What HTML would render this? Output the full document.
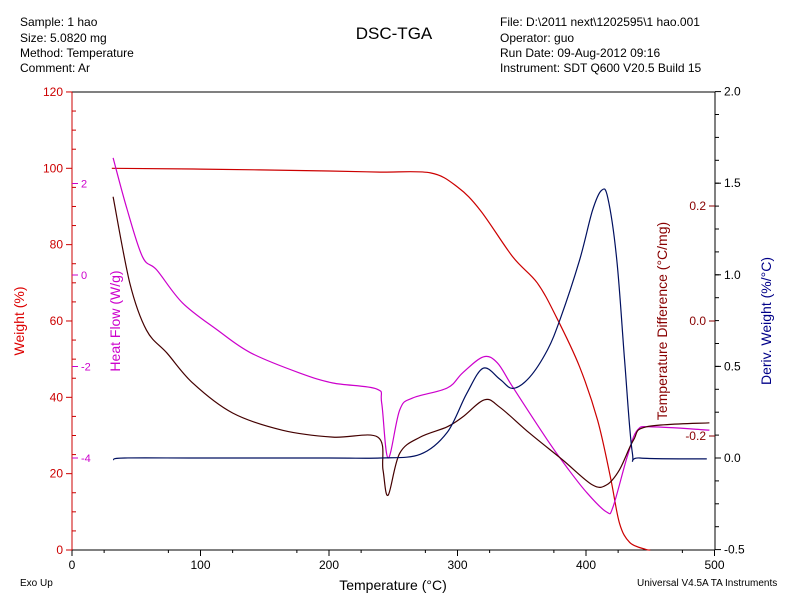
<!DOCTYPE html>
<html><head><meta charset="utf-8"><style>
body{margin:0;background:#fff;width:789px;height:608px;overflow:hidden;font-family:"Liberation Sans",sans-serif}
svg text{font-family:"Liberation Sans",sans-serif}
</style></head><body>
<svg id="c" width="789" height="608">
<g font-size="12" fill="#000">
<text x="20" y="26">Sample: 1 hao</text>
<text x="20" y="42">Size:  5.0820 mg</text>
<text x="20" y="57">Method: Temperature</text>
<text x="20" y="72">Comment: Ar</text>
<text x="500" y="26">File: D:\2011 next\1202595\1 hao.001</text>
<text x="500" y="42">Operator: guo</text>
<text x="500" y="57">Run Date: 09-Aug-2012 09:16</text>
<text x="500" y="72">Instrument: SDT Q600 V20.5 Build 15</text>
<text x="20" y="586" font-size="10">Exo Up</text>
<text x="637" y="586" font-size="10">Universal V4.5A TA Instruments</text>
</g>
<text x="394" y="39" font-size="17" text-anchor="middle">DSC-TGA</text>
<text x="393" y="590" font-size="14" text-anchor="middle">Temperature (°C)</text>
<text transform="translate(24,321) rotate(-90)" font-size="14" fill="#d00" text-anchor="middle">Weight (%)</text>
<text transform="translate(120,321) rotate(-90)" font-size="14" fill="#c0c" text-anchor="middle">Heat Flow (W/g)</text>
<text transform="translate(667,321) rotate(-90)" font-size="14" fill="#800" text-anchor="middle">Temperature Difference (°C/mg)</text>
<text transform="translate(771,321) rotate(-90)" font-size="14" fill="#008" text-anchor="middle">Deriv. Weight (%/°C)</text>
<g id="axes"></g><g id="series"></g>
</svg>
<script>
const tempW=[31,100,200,240,279,300,318,343,362,377,395,409,419,426,434,446,450];
const weight=[100,99.8,99.3,99,98.8,95.1,88.9,76.8,70,61,48,34,19.1,7.1,2,0.2,0];
const tempH=[32,43,55,66,86,113,139,177,203,237,241,246,255,265,292,304,320,331,343,370,385,401,416,421,432,440,452,496];
const heatFlow=[2.56,1.42,0.39,0.11,-0.61,-1.2,-1.7,-2.14,-2.36,-2.49,-2.8,-4.0,-2.95,-2.69,-2.47,-2.14,-1.79,-1.92,-2.45,-3.61,-4.2,-4.77,-5.18,-5.07,-3.98,-3.39,-3.32,-3.39];
const tempD=[32,45,58,74,94,125,164,203,238,242,246,255,271,292,304,321,333,356,382,405,416,426,437,447,496];
const tempDiff=[0.216,0.066,-0.016,-0.056,-0.108,-0.16,-0.19,-0.202,-0.202,-0.259,-0.303,-0.23,-0.202,-0.184,-0.167,-0.137,-0.15,-0.195,-0.242,-0.285,-0.285,-0.259,-0.207,-0.184,-0.177];
const tempR=[32,41,100,200,240,271,292,307,320,333,343,356,370,380,395,405,412,417,424,430,436,442,494];
const derivW=[-0.01,0,0,0,0,0.02,0.14,0.35,0.49,0.43,0.38,0.44,0.59,0.76,1.08,1.35,1.46,1.42,1.08,0.54,0.03,0,-0.005];
const xTicks=[0,100,200,300,400,500];
const wTicks=[0,20,40,60,80,100,120];
const hTicks=[2,0,-2,-4];
const dTicks=[0.2,0.0,-0.2];
const rTicks=[2.0,1.5,1.0,0.5,0.0,-0.5];
const X=t=>72+t*1.285, YW=w=>550-w*3.817, YH=h=>275-h*45.75, YD=d=>321-d*575, YR=r=>458-r*183.2;
const NS='http://www.w3.org/2000/svg';
const ax=document.getElementById('axes'), se=document.getElementById('series');
function el(tag,attrs,parent,txt){const e=document.createElementNS(NS,tag);for(const k in attrs)e.setAttribute(k,attrs[k]);if(txt!==undefined)e.textContent=txt;parent.appendChild(e);return e;}
let e;
e=el('line',{x1:72,y1:92,x2:715,y2:92,stroke:'#000'},ax);


e=el('line',{x1:72,y1:550,x2:715,y2:550,stroke:'#000'},ax);


e=el('line',{x1:72,y1:92,x2:72,y2:550,stroke:'#c00'},ax);


e=el('line',{x1:715,y1:92,x2:715,y2:550,stroke:'#000'},ax);


xTicks.forEach(t=>{el('line',{x1:X(t),y1:550,x2:X(t),y2:556,stroke:'#000'},ax);
 e=el('text',{x:X(t),y:569,'font-size':12,'text-anchor':'middle'},ax,t);
 
 });
for(let t=25;t<500;t+=50)el('line',{x1:X(t),y1:550,x2:X(t),y2:553,stroke:'#000'},ax);
wTicks.forEach(w=>{el('line',{x1:66,y1:YW(w),x2:72,y2:YW(w),stroke:'#c00'},ax);
 e=el('text',{x:63,y:YW(w)+4,'font-size':12,'text-anchor':'end',fill:'#c00'},ax,w);
 
 });
for(let w=5;w<120;w+=5)if(w%20)el('line',{x1:72,y1:YW(w),x2:76,y2:YW(w),stroke:'#c00'},ax);
hTicks.forEach(h=>{el('line',{x1:72,y1:YH(h),x2:78,y2:YH(h),stroke:'#c0c'},ax);
 e=el('text',{x:81,y:YH(h)+4,'font-size':11,fill:'#c0c'},ax,h);
 
 });
rTicks.forEach(r=>{el('line',{x1:715,y1:YR(r),x2:721,y2:YR(r),stroke:'#000'},ax);
 e=el('text',{x:724,y:YR(r)+4,'font-size':12,fill:'#000'},ax,r.toFixed(1));
 
 });
for(let r=-0.375;r<2;r+=0.125)el('line',{x1:715,y1:YR(r),x2:719,y2:YR(r),stroke:'#000'},ax);
dTicks.forEach(d=>{el('line',{x1:709,y1:YD(d),x2:715,y2:YD(d),stroke:'#800'},ax);
 e=el('text',{x:706,y:YD(d)+4,'font-size':12,'text-anchor':'end',fill:'#800'},ax,d.toFixed(1));
 
 });
function line(ts,vs,fy){
 const p=ts.map((t,i)=>[X(t),fy(vs[i])]);
 let d='M'+p[0][0].toFixed(1)+','+p[0][1].toFixed(1);
 for(let i=0;i<p.length-1;i++){
  const p0=p[i-1]||p[i],p1=p[i],p2=p[i+1],p3=p[i+2]||p2;
  const c1=[p1[0]+(p2[0]-p0[0])/6,p1[1]+(p2[1]-p0[1])/6];
  const c2=[p2[0]-(p3[0]-p1[0])/6,p2[1]-(p3[1]-p1[1])/6];
  d+=' C'+c1.map(v=>v.toFixed(1)).join(',')+' '+c2.map(v=>v.toFixed(1)).join(',')+' '+p2[0].toFixed(1)+','+p2[1].toFixed(1);
 }
 return d;}
e=el('path',{d:line(tempW,weight,YW),fill:'none',stroke:'#c00','stroke-width':1.2},se);


e=el('path',{d:line(tempH,heatFlow,YH),fill:'none',stroke:'#c0c','stroke-width':1.2},se);


e=el('path',{d:line(tempD,tempDiff,YD),fill:'none',stroke:'#400','stroke-width':1.2},se);


e=el('path',{d:line(tempR,derivW,YR),fill:'none',stroke:'#001060','stroke-width':1.2},se);


</script>
</body></html>
